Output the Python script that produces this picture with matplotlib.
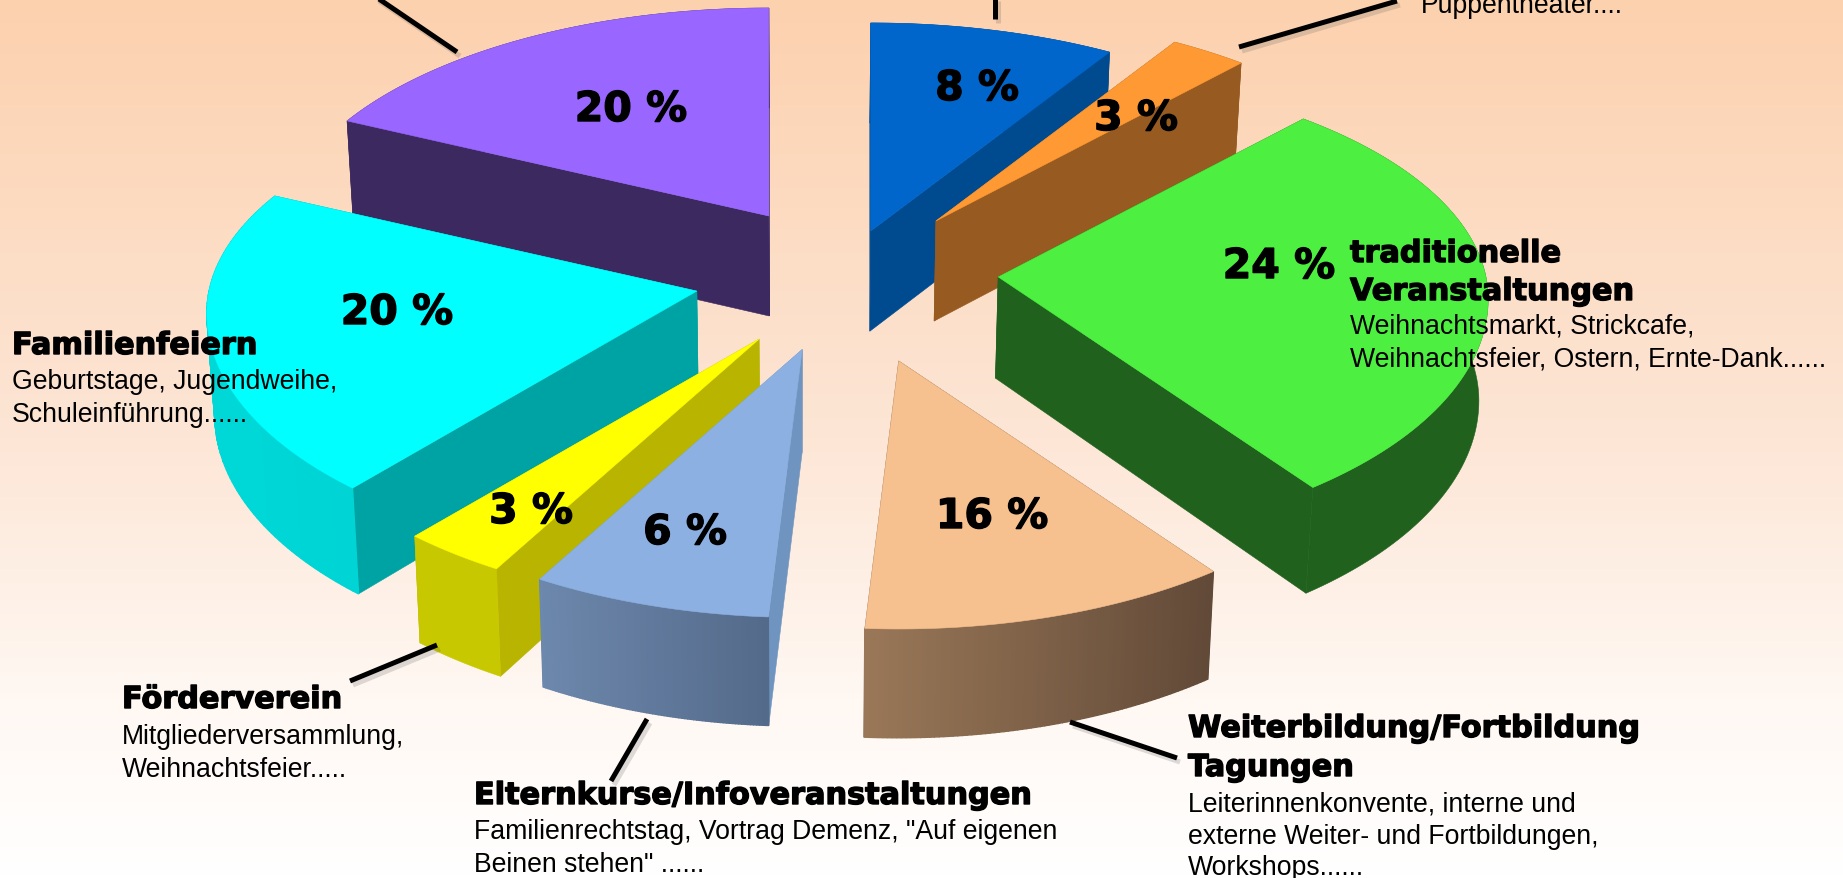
import numpy as np
import matplotlib
matplotlib.use("Agg")
import matplotlib.pyplot as plt
import matplotlib.patheffects as pe
from matplotlib.colors import LinearSegmentedColormap, to_rgb
from matplotlib.patches import Polygon

# ---------- data ----------
categories = ["Kinder", "Puppentheater", "traditionelle Veranstaltungen", "Weiterbildung/Fortbildung Tagungen",
              "Elternkurse/Infoveranstaltungen", "Förderverein", "Familienfeiern", "Sonstige"]
printed_labels = ["8 %", "3 %", "24 %", "16 %", "6 %", "3 %", "20 %", "20 %"]
# wedge sizes as measured on the picture (perspective makes them differ from the printed labels)
drawn_shares = [8.1, 2.6, 28.2, 12.2, 7.9, 3.4, 21.1, 16.5]

# ---------- layout / style ----------
W, H = 1843, 879
CX, CY = 835, 290
RX, RY_UP, RY_DOWN, EQUATOR = 490, 230, 246, 22
explode_x = [.073, .206, .333, .130, -.067, -.155, -.282, -.135]
explode_y = [-.279, -.327, -.058, .346, .291, .241, .010, -.351]
EX_UNIT_Y = 208

top_colors = ["#0066CC", "#FF9933", "#4DF040", "#F6C08F", "#8DB0E2", "#FFFF00", "#00FFFF", "#9966FF"]
side_colors = ["#004A8F", "#975A20", "#1F611D", "#6B5340", "#6F94BF", "#B8B400", "#00A3A3", "#3C2960"]
outer_left = ["#004A8F", "#975A20", "#1F611D", "#9A7858", "#6D88AD", "#C8C800", "#00D8D8", "#3C2960"]
outer_right = ["#004A8F", "#975A20", "#1F611D", "#624A38", "#546A8A", "#C8C800", "#00D4D4", "#3C2960"]
draw_order = [7, 0, 1, 2, 6, 5, 4, 3]

label_pos = [(977, 101), (1136, 131), (1279, 279), (992, 529), (685, 545), (531, 524), (397, 325), (631, 122)]

headings = [
    (12, 355, "Familienfeiern"),
    (1350, 263, "traditionelle"), (1350, 301, "Veranstaltungen"),
    (122, 709, "Förderverein"),
    (474, 805, "Elternkurse/Infoveranstaltungen"),
    (1188, 738, "Weiterbildung/Fortbildung"), (1188, 777, "Tagungen"),
]
bodies = [
    (12, 389, "Geburtstage, Jugendweihe,"), (12, 422, "Schuleinführung......"),
    (1421, 13, "Puppentheater...."),
    (1350, 334, "Weihnachtsmarkt, Strickcafe,"), (1350, 367, "Weihnachtsfeier, Ostern, Ernte-Dank......"),
    (122, 744, "Mitgliederversammlung,"), (122, 777, "Weihnachtsfeier....."),
    (474, 839, 'Familienrechtstag, Vortrag Demenz, "Auf eigenen'), (474, 872, 'Beinen stehen" ......'),
    (1188, 812, "Leiterinnenkonvente, interne und"), (1188, 844, "externe Weiter- und Fortbildungen,"),
    (1188, 875, "Workshops......"),
]
callouts = [
    ((376, -2), (457, 53)), ((995, -2), (995, 20)), ((1239, 48), (1397, 2)),
    ((437, 646), (350, 682)), ((647, 720), (611, 782)), ((1070, 723), (1177, 759)),
]
px = 72 / 100


def arc(apex, t0, t1, n=80):
    t = np.radians(np.linspace(t0, t1, n))
    c = np.cos(t)
    ry = np.where(c > 0, RY_UP, RY_DOWN)
    return np.column_stack([apex[0] + RX * np.sin(t), apex[1] + EQUATOR - ry * c])


def drop(p):
    p = np.atleast_2d(p).astype(float)
    out = p.copy()
    out[:, 0] -= 0.0135 * (p[:, 0] - 800)
    out[:, 1] += 100 + np.maximum(0, 0.0215 * (p[:, 1] - 220))
    return out


fig = plt.figure(figsize=(W / 100, H / 100), dpi=100)
ax = fig.add_axes([0, 0, 1, 1])
ax.set_xlim(0, W)
ax.set_ylim(H, 0)
ax.axis("off")

bg = LinearSegmentedColormap.from_list("bg", [(0, "#FCD1AE"), (.5, "#FDE6D6"), (.8, "#FFF8F3"), (1, "#FFFFFF")])
ax.imshow(np.linspace(0, 1, 256)[:, None], cmap=bg, extent=(0, W, H, 0), aspect="auto", zorder=0)

edges = np.concatenate([[0], np.cumsum(drawn_shares)]) * 360 / sum(drawn_shares)
z = 1
for i in draw_order:
    apex = np.array([CX + explode_x[i] * RX, CY + explode_y[i] * EX_UNIT_Y])
    t0, t1 = edges[i], edges[i + 1]
    rim = arc(apex, t0, t1)
    rim_low = drop(rim)
    apex_low = drop(apex)[0]
    # radial side walls
    for end, end_low in ((rim[0], rim_low[0]), (rim[-1], rim_low[-1])):
        ax.add_patch(Polygon([apex, end, end_low, apex_low], closed=True, fc=side_colors[i],
                             ec=side_colors[i], lw=.4, zorder=z))
    z += 1
    # curved outer wall, shaded from left to right when its two end colours differ
    if outer_left[i] == outer_right[i]:
        ax.add_patch(Polygon(np.vstack([rim, rim_low[::-1]]), closed=True, fc=outer_left[i],
                             ec=outer_left[i], lw=.4, zorder=z))
    else:
        cl, cr = np.array(to_rgb(outer_left[i])), np.array(to_rgb(outer_right[i]))
        xmin, xmax = rim[:, 0].min(), rim[:, 0].max()
        for k in range(len(rim) - 1):
            f = (rim[k, 0] - xmin) / max(xmax - xmin, 1)
            col = cl + (cr - cl) * f
            ax.add_patch(Polygon([rim[k], rim[k + 1], rim_low[k + 1], rim_low[k]], closed=True,
                                 fc=col, ec=col, lw=1.0, zorder=z))
    z += 1
    # top surface
    ax.add_patch(Polygon(np.vstack([apex, rim]), closed=True, fc=top_colors[i], ec=top_colors[i], lw=.4, zorder=z))
    z += 1

for a, b in callouts:
    ax.plot([a[0] + 3, b[0] + 3], [a[1] + 4, b[1] + 4], color="#555555", lw=5 * px, alpha=.2,
            solid_capstyle="butt", zorder=z)
    ax.plot([a[0], b[0]], [a[1], b[1]], color="black", lw=5 * px, solid_capstyle="butt", zorder=z + 1)
z += 2

heavy = [pe.withStroke(linewidth=1.0, foreground="black")]
for (x, y), s in zip(label_pos, printed_labels):
    ax.text(x, y, s, ha="center", va="baseline", fontsize=41 * px, fontweight="bold",
            family="DejaVu Sans", color="black", zorder=z, path_effects=heavy)
for x, y, s in headings:
    ax.text(x, y, s, ha="left", va="baseline", fontsize=30.3 * px, fontweight="bold",
            family="DejaVu Sans", color="black", zorder=z, path_effects=heavy)
for x, y, s in bodies:
    ax.text(x, y, s, ha="left", va="baseline", fontsize=26.6 * px,
            family="Liberation Sans", color="black", zorder=z)

fig.savefig("out.png", dpi=100)
